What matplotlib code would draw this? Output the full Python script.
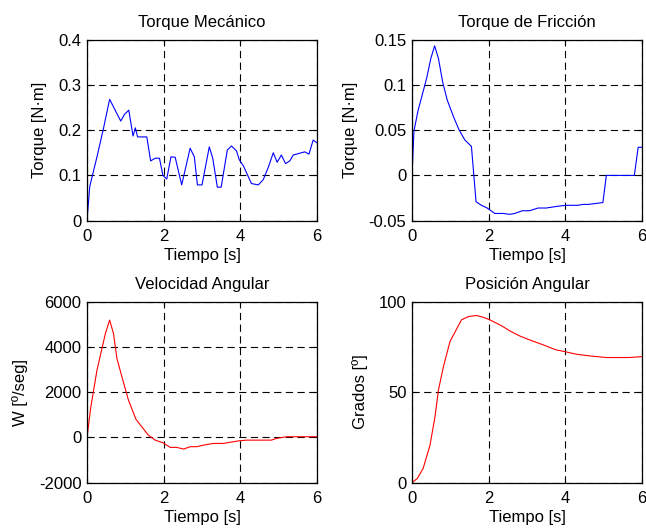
import matplotlib
matplotlib.use('Agg')
import matplotlib.pyplot as plt

plt.rcParams['font.family'] = ['Liberation Sans', 'DejaVu Sans']
plt.rcParams['font.size'] = 12

# Torque mecanico
t_mec = [0, 0.07, 0.26, 0.43, 0.59, 0.88, 0.98, 1.09, 1.2, 1.26, 1.32, 1.56, 1.66, 1.78,
         1.89, 1.98, 2.08, 2.19, 2.3, 2.47, 2.69, 2.8, 2.88, 3.0, 3.19, 3.28, 3.4, 3.5,
         3.66, 3.77, 3.9, 3.97, 4.08, 4.29, 4.47, 4.6, 4.73, 4.86, 4.96, 5.07, 5.18,
         5.29, 5.38, 5.68, 5.79, 5.9, 6.0]
tq_mec = [0, 0.075, 0.141, 0.204, 0.268, 0.22, 0.235, 0.244, 0.187, 0.205, 0.185, 0.185,
          0.132, 0.138, 0.138, 0.1, 0.092, 0.141, 0.14, 0.079, 0.16, 0.141, 0.079, 0.079,
          0.163, 0.138, 0.074, 0.074, 0.156, 0.165, 0.154, 0.135, 0.121, 0.082, 0.079,
          0.091, 0.118, 0.15, 0.129, 0.145, 0.126, 0.132, 0.145, 0.152, 0.147, 0.178, 0.172]

# Torque de friccion
t_fr = [0, 0.05, 0.16, 0.38, 0.49, 0.59, 0.69, 0.8, 0.92, 1.09, 1.23, 1.38, 1.55, 1.67,
        1.81, 1.96, 2.16, 2.38, 2.55, 2.68, 2.88, 3.07, 3.29, 3.5, 3.81, 4.02, 4.33, 4.46,
        4.6, 4.98, 5.07, 5.8, 5.9, 6.0]
tq_fr = [0, 0.049, 0.072, 0.107, 0.129, 0.143, 0.129, 0.103, 0.083, 0.064, 0.05, 0.039,
         0.032, -0.029, -0.033, -0.036, -0.042, -0.042, -0.043, -0.042, -0.039, -0.039,
         -0.036, -0.036, -0.034, -0.033, -0.033, -0.032, -0.032, -0.030, 0, 0, 0.031, 0.031]

# Velocidad angular
t_vel = [0, 0.1, 0.26, 0.48, 0.59, 0.69, 0.78, 0.91, 1.08, 1.28, 1.43, 1.6, 1.78, 1.98,
         2.17, 2.34, 2.52, 2.69, 2.86, 3.04, 3.3, 3.56, 3.82, 3.97, 4.16, 4.51, 4.81,
         4.94, 5.2, 5.55, 6.0]
w_vel = [0, 1350, 2970, 4590, 5180, 4590, 3490, 2680, 1650, 790, 470, 100, -120, -235,
         -440, -440, -515, -410, -410, -340, -265, -265, -190, -150, -120, -120, -120,
         -45, 30, 30, 30]

# Posicion angular
t_pos = [0, 0.14, 0.29, 0.47, 0.6, 0.69, 0.82, 0.99, 1.15, 1.29, 1.47, 1.68, 1.86, 2.03,
         2.34, 2.55, 2.81, 3.07, 3.42, 3.76, 3.98, 4.29, 4.63, 5.07, 5.67, 6.0]
g_pos = [0, 2.4, 7.9, 20.8, 36.5, 51.2, 64.1, 77.9, 84.3, 89.9, 91.7, 92.3, 91.3, 89.9,
         86.6, 83.8, 81.0, 78.8, 76.1, 73.3, 72.4, 70.9, 70.0, 69.1, 69.1, 69.6]

fig = plt.figure(figsize=(6.46, 5.29), dpi=100)
w, h = 0.356, 0.3425
ax1 = fig.add_axes([0.1347, 0.5828, w, h])
ax2 = fig.add_axes([0.6378, 0.5828, w, h])
ax3 = fig.add_axes([0.1347, 0.0875, w, h])
ax4 = fig.add_axes([0.6378, 0.0875, w, h])


def estilo(ax, titulo, ylabel, ylim, yticks, yticklabels):
    ax.set_xlim(0, 6)
    ax.set_xticks([0, 2, 4, 6])
    ax.set_ylim(*ylim)
    ax.set_yticks(yticks)
    ax.set_yticklabels(yticklabels)
    ax.set_title(titulo, fontsize=12, pad=9)
    ax.tick_params(direction='in', length=3, width=0.8, top=True, right=True,
                   labelsize=12)
    ax.tick_params(axis='x', pad=6)
    ax.tick_params(axis='y', pad=4)
    ax.set_xlabel('Tiempo [s]', labelpad=3)
    ax.set_ylabel(ylabel, labelpad=8)
    ax.grid(True, color='black', linestyle=(0, (6.5, 4)), linewidth=0.8)
    for s in ax.spines.values():
        s.set_linewidth(0.9)


ax1.plot(t_mec, tq_mec, color='#0000ff', linewidth=0.8)
estilo(ax1, 'Torque Mecánico', 'Torque [N·m]', (0, 0.4), [0, 0.1, 0.2, 0.3, 0.4],
       ['0', '0.1', '0.2', '0.3', '0.4'])

ax2.plot(t_fr, tq_fr, color='#0000ff', linewidth=0.8)
estilo(ax2, 'Torque de Fricción', 'Torque [N·m]', (-0.05, 0.15),
       [-0.05, 0, 0.05, 0.1, 0.15], ['-0.05', '0', '0.05', '0.1', '0.15'])

ax3.plot(t_vel, w_vel, color='#ff0000', linewidth=0.8)
estilo(ax3, 'Velocidad Angular', 'W [º/seg]', (-2000, 6000),
       [-2000, 0, 2000, 4000, 6000], ['-2000', '0', '2000', '4000', '6000'])

ax4.plot(t_pos, g_pos, color='#ff0000', linewidth=0.8)
estilo(ax4, 'Posición Angular', 'Grados [º]', (0, 100), [0, 50, 100], ['0', '50', '100'])

fig.savefig('out.png', dpi=100)
